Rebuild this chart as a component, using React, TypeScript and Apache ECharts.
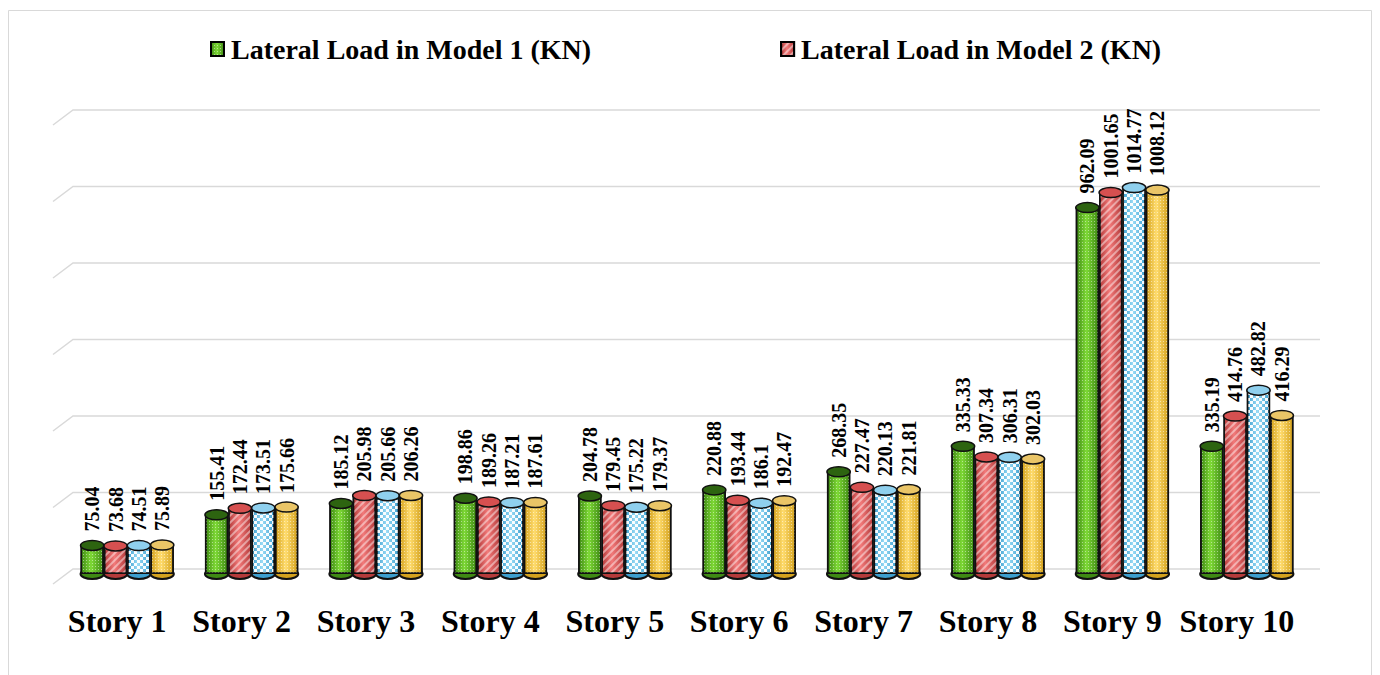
import React, { useEffect, useRef } from 'react';
import * as echarts from 'echarts';

const categories = ['Story 1', 'Story 2', 'Story 3', 'Story 4', 'Story 5', 'Story 6', 'Story 7', 'Story 8', 'Story 9', 'Story 10'];
const model1 = [75.04, 155.41, 185.12, 198.86, 204.78, 220.88, 268.35, 335.33, 962.09, 335.19];
const model2 = [73.68, 172.44, 205.98, 189.26, 179.45, 193.44, 227.47, 307.34, 1001.65, 414.76];
const model3 = [74.51, 173.51, 205.66, 187.21, 175.22, 186.1, 220.13, 306.31, 1014.77, 482.82];
const model4 = [75.89, 175.66, 206.26, 187.61, 179.37, 192.47, 221.81, 302.03, 1008.12, 416.29];
const seriesNames = [
  'Lateral Load in Model 1 (KN)',
  'Lateral Load in Model 2 (KN)',
  'Lateral Load in Model 3 (KN)',
  'Lateral Load in Model 4 (KN)',
];
const legendNames = ['Lateral Load in Model 1 (KN)', 'Lateral Load in Model 2 (KN)'];
const gridTicks = [0, 200, 400, 600, 800, 1000, 1200];

const FONT = '"Liberation Serif", "Times New Roman", serif';

const edgeColors = ['#3f8a14', '#b53b3b', '#3d9fcf', '#d4a21e'];
const midColors = ['#7ed936', '#f27a7a', '#9adcf6', '#ffdc6e'];
const capColors = ['#2d6410', '#d65050', '#8fd0ee', '#eac567'];
const decals: any[] = [
  { symbol: 'rect', symbolSize: 1, color: 'rgba(255,255,255,0.45)', dashArrayX: [1, 2], dashArrayY: [1, 2] },
  { symbol: 'rect', symbolSize: 1, color: 'rgba(255,255,255,0.45)', dashArrayX: [1, 0], dashArrayY: [2, 3], rotation: -Math.PI / 4 },
  { symbol: 'rect', symbolSize: 1, color: 'rgba(255,255,255,0.95)', dashArrayX: [[3, 3], [0, 3, 3, 0]], dashArrayY: [3, 0] },
  { symbol: 'rect', symbolSize: 1, color: 'rgba(255,255,255,0.5)', dashArrayX: [1, 2], dashArrayY: [1, 2] },
];

export default function App() {
  const ref = useRef<HTMLDivElement>(null);
  useEffect(() => {
    if (!ref.current) return;
    const chart = echarts.init(ref.current, undefined, { renderer: 'svg' });
    const data = [model1, model2, model3, model4];

    const barWidthOf = (api: any) => (api.size([1, 0])[0] * 0.75) / 4;

    const capSeries = data.map((arr, s) => ({
      type: 'custom',
      name: 'cap' + s,
      xAxisIndex: 0,
      yAxisIndex: 0,
      z: 4,
      silent: true,
      data: arr.map((v, i) => [i, v]),
      encode: { x: 0, y: 1 },
      renderItem: (params: any, api: any) => {
        const idx = api.value(0);
        const v = api.value(1);
        const pt = api.coord([idx, v]);
        const bw = barWidthOf(api);
        const cx = pt[0] + (s - 1.5) * bw;
        return {
          type: 'ellipse',
          shape: { cx, cy: pt[1], rx: bw / 2, ry: 5 },
          style: { fill: capColors[s], stroke: '#111', lineWidth: 1.5 },
        };
      },
    }));

    const bottomSeries = data.map((arr, s) => ({
      type: 'custom',
      name: 'base' + s,
      xAxisIndex: 0,
      yAxisIndex: 0,
      z: 1,
      silent: true,
      data: arr.map((v, i) => [i, v]),
      encode: { x: 0, y: 1 },
      renderItem: (params: any, api: any) => {
        const idx = api.value(0);
        const pt = api.coord([idx, 0]);
        const bw = barWidthOf(api);
        const cx = pt[0] + (s - 1.5) * bw;
        return {
          type: 'ellipse',
          shape: { cx, cy: pt[1], rx: bw / 2, ry: 5 },
          style: { fill: edgeColors[s], stroke: '#111', lineWidth: 2 },
        };
      },
    }));

    const barSeries = data.map((arr, s) => ({
      type: 'bar',
      name: seriesNames[s],
      xAxisIndex: 0,
      yAxisIndex: 0,
      z: 2,
      data: arr,
      barGap: '0%',
      barCategoryGap: '25%',
      itemStyle: {
        color: new echarts.graphic.LinearGradient(0, 0, 1, 0, [
          { offset: 0, color: edgeColors[s] },
          { offset: 0.45, color: midColors[s] },
          { offset: 1, color: edgeColors[s] },
        ]),
        borderColor: '#111',
        borderWidth: 1.5,
        decal: decals[s],
      },
      label: {
        show: true,
        position: 'top',
        distance: 14,
        rotate: 90,
        align: 'left',
        verticalAlign: 'middle',
        fontFamily: FONT,
        fontWeight: 'bold',
        fontSize: 20,
        color: '#000',
        formatter: (p: any) => String(p.value),
      },
    }));

    const gridLineSeries = {
      type: 'custom',
      name: 'gridlines',
      xAxisIndex: 1,
      yAxisIndex: 1,
      z: 0,
      silent: true,
      data: gridTicks.map((t) => [0, t]),
      encode: { x: 0, y: 1 },
      renderItem: (params: any, api: any) => {
        const y = api.coord([0, api.value(1)])[1];
        const cs = params.coordSys;
        return {
          type: 'polyline',
          shape: { points: [[cs.x - 20, y + 15], [cs.x, y], [cs.x + cs.width, y]] },
          style: { stroke: '#d9d9d9', lineWidth: 1.5, fill: 'none' },
        };
      },
    };

    chart.setOption({
      animation: false,
      backgroundColor: '#ffffff',
      graphic: [
        {
          type: 'rect',
          shape: { x: 0.5, y: 2.5, width: 1363, height: 700 },
          style: { fill: 'none', stroke: '#d9d9d9', lineWidth: 1 },
          silent: true,
        },
      ],
      legend: {
        data: legendNames,
        left: 197,
        top: 22,
        itemGap: 189,
        itemWidth: 13,
        itemHeight: 14,
        icon: 'rect',
        itemStyle: { borderColor: '#000', borderWidth: 2 },
        textStyle: { fontFamily: FONT, fontWeight: 'bold', fontSize: 28, color: '#000', padding: [0, 0, 0, 2] },
      },
      grid: [
        { left: 57, width: 1244, top: 109, bottom: 101 },
        { left: 65, width: 1247, top: 102, bottom: 106 },
      ],
      xAxis: [
        {
          type: 'category',
          gridIndex: 0,
          data: categories,
          axisLine: { show: false },
          axisTick: { show: false },
          axisLabel: {
            interval: 0,
            margin: 31,
            fontFamily: FONT,
            fontWeight: 'bold',
            fontSize: 32,
            color: '#000',
            padding: [0, 20, 0, 0],
          },
        },
        {
          type: 'category',
          gridIndex: 1,
          data: ['g'],
          show: false,
        },
      ],
      yAxis: [
        {
          type: 'value',
          gridIndex: 0,
          min: 0,
          max: 1200,
          interval: 200,
          show: false,
          splitLine: { show: false },
        },
        {
          type: 'value',
          gridIndex: 1,
          min: 0,
          max: 1200,
          interval: 200,
          show: false,
          splitLine: { show: false },
        },
      ],
      series: [gridLineSeries, ...bottomSeries, ...barSeries, ...capSeries],
    });
    return () => chart.dispose();
  }, []);
  return <div ref={ref} style={{ width: 1364, height: 667 }} />;
}
